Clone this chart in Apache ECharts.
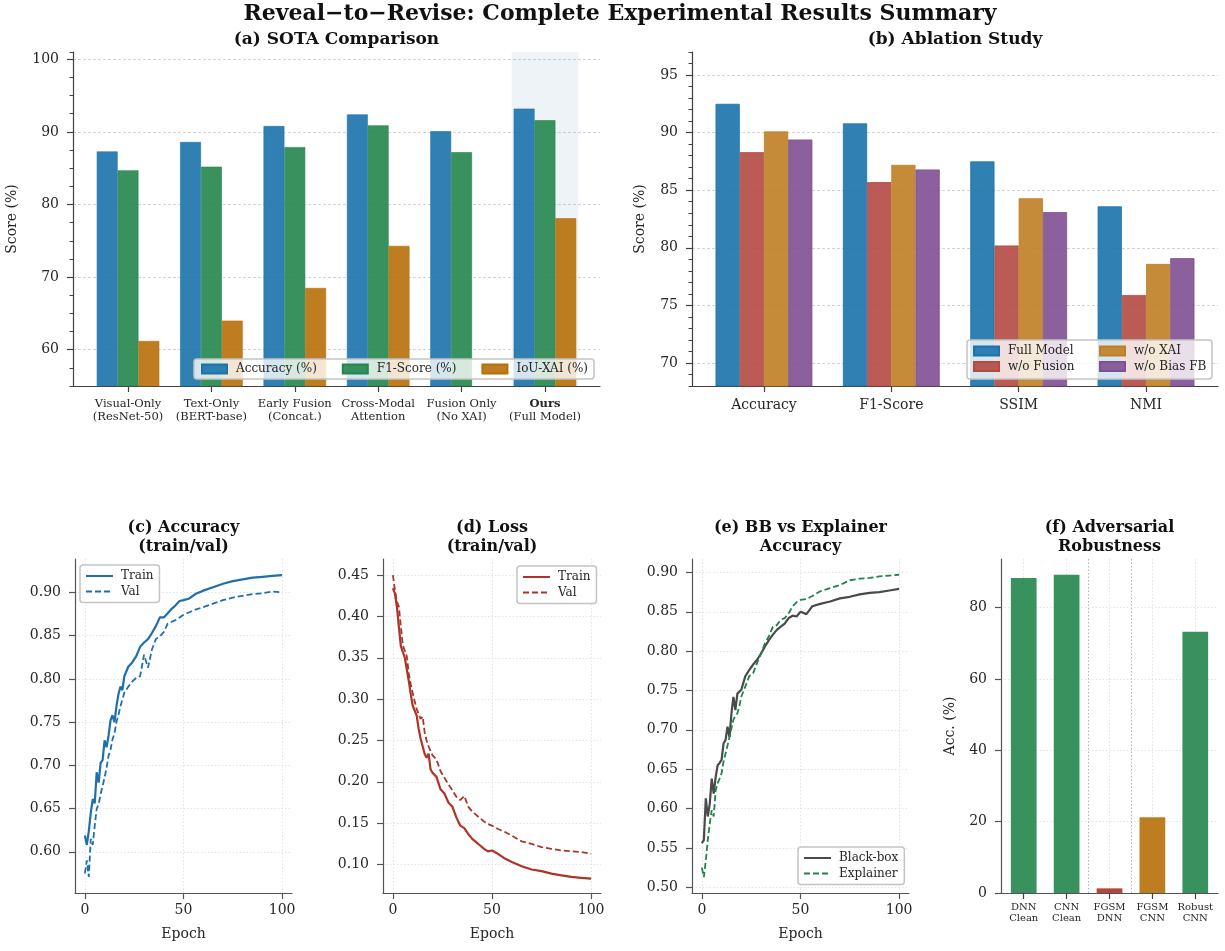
<!DOCTYPE html>
<html><head><meta charset="utf-8">
<script src="https://cdn.jsdelivr.net/npm/echarts@6/dist/echarts.min.js"></script>
<style>html,body{margin:0;padding:0;background:#fff}#c{width:1225px;height:951px}</style>
</head><body><div id="c"></div>
<script>
// ---------------- data ----------------
const sotaCats = ['Visual-Only\n(ResNet-50)', 'Text-Only\n(BERT-base)', 'Early Fusion\n(Concat.)', 'Cross-Modal\nAttention', 'Fusion Only\n(No XAI)', 'Ours\n(Full Model)'];
const sotaAcc = [87.3, 88.6, 90.8, 92.4, 90.1, 93.2];
const sotaF1  = [84.7, 85.2, 87.9, 90.9, 87.2, 91.6];
const sotaIoU = [61.2, 64.0, 68.5, 74.3, null, 78.1];

const ablCats = ['Accuracy', 'F1-Score', 'SSIM', 'NMI'];
const ablFull     = [92.5, 90.8, 87.5, 83.6];
const ablNoFusion = [88.3, 85.7, 80.2, 75.9];
const ablNoXAI    = [90.1, 87.2, 84.3, 78.6];
const ablNoBias   = [89.4, 86.8, 83.1, 79.1];

const epochs = [0,1,2,3,4,5,6,7,8,9,10,11,12,13,14,15,16,17,18,19,20,22,24,26,28,30,32,34,36,38,40,42,44,46,48,50,53,56,60,65,70,75,80,85,90,95,100];
const accTrain = [.619,.608,.624,.645,.661,.656,.692,.680,.703,.706,.729,.721,.734,.752,.758,.750,.768,.782,.791,.787,.803,
  .814,.819,.826,.837,.842,.846,.853,.861,.871,.871,.876,.881,.885,.890,.891,
  .893,.898,.902,.906,.910,.913,.915,.917,.918,.919,.920];
const accVal = [.575,.590,.571,.615,.608,.630,.650,.655,.667,.676,.686,.697,.711,.718,.730,.737,.750,.758,.768,.776,.784,
  .791,.797,.801,.803,.828,.813,.834,.846,.849,.854,.864,.866,.868,.871,.874,
  .877,.880,.883,.887,.891,.894,.896,.898,.899,.901,.900];
const lossTrain = [.434,.428,.412,.388,.364,.362,.350,.336,.322,.306,.292,.290,.280,.264,.252,.243,.234,.229,.234,.215,.211,
  .206,.191,.186,.175,.170,.157,.147,.144,.137,.131,.127,.123,.119,.116,.117,
  .113,.108,.103,.098,.094,.092,.089,.087,.085,.084,.083];
const lossVal = [.450,.432,.418,.412,.388,.365,.363,.352,.331,.318,.307,.297,.288,.282,.276,.279,.260,.250,.243,.237,.232,
  .227,.213,.205,.197,.190,.182,.178,.183,.170,.164,.160,.156,.152,.149,.147,
  .143,.140,.135,.128,.125,.121,.119,.117,.116,.115,.113];
const bbAcc = [.556,.560,.613,.590,.606,.638,.619,.640,.655,.658,.662,.683,.687,.704,.691,.721,.742,.725,.746,.748,.751,
  .768,.776,.783,.789,.797,.806,.814,.821,.827,.831,.835,.842,.845,.844,.850,
  .847,.857,.860,.863,.867,.869,.872,.874,.875,.877,.879];
const expAcc = [.525,.513,.534,.560,.581,.598,.590,.623,.632,.638,.645,.660,.670,.680,.691,.702,.713,.718,.721,.730,.742,
  .755,.768,.772,.785,.797,.810,.819,.831,.833,.840,.842,.848,.857,.862,.865,
  .866,.870,.876,.880,.884,.890,.892,.893,.895,.896,.897];

const advCats = ['DNN\nClean', 'CNN\nClean', 'FGSM\nDNN', 'FGSM\nCNN', 'Robust\nCNN'];
const advAcc = [88.3, 89.2, 1.3, 21.2, 73.2];

const yTicksA = [60, 70, 80, 90, 100];
const yTicksB = [70, 75, 80, 85, 90, 95];
const yTicksC = [0.60, 0.65, 0.70, 0.75, 0.80, 0.85, 0.90];
const yTicksD = [0.10, 0.15, 0.20, 0.25, 0.30, 0.35, 0.40, 0.45];
const yTicksE = [0.50, 0.55, 0.60, 0.65, 0.70, 0.75, 0.80, 0.85, 0.90];
const yTicksF = [0, 20, 40, 60, 80];
const xTicksEpoch = [0, 50, 100];

// ---------------- styles ----------------
const FF = 'DejaVu Serif';
const TXT = '#262626';
const AX = '#404040';
const C = {
  blue: 'rgba(27,114,172,0.9)', blueE: 'rgb(27,114,172)',
  green: 'rgba(36,134,77,0.9)', greenE: 'rgb(36,134,77)',
  orange: 'rgba(184,111,9,0.9)', orangeE: 'rgb(184,111,9)',
  red: 'rgba(179,74,66,0.9)', redE: 'rgb(179,74,66)',
  orange2: 'rgba(192,126,36,0.9)', orange2E: 'rgb(192,126,36)',
  purple: 'rgba(127,79,145,0.9)', purpleE: 'rgb(127,79,145)',
  advRed: 'rgba(170,50,40,0.9)'
};
const advColors = [C.green, C.green, C.advRed, C.orange, C.green];

const idx = a => a.map((_, i) => i);
const pairs = (xs, ys) => ys.map((v, i) => [xs[i], v == null ? '-' : v]);

function catAxis(grid, min, max, ticks, fmt, labelOpt) {
  return {
    type: 'value', gridIndex: grid, min, max,
    axisLine: { show: true, onZero: false, lineStyle: { color: AX, width: 1.2 } },
    axisTick: { show: true, length: 6, customValues: ticks, lineStyle: { color: AX, width: 1.2 } },
    axisLabel: Object.assign({ customValues: ticks, formatter: fmt, color: TXT, fontFamily: FF, fontSize: 14, margin: 12 }, labelOpt || {}),
    splitLine: { show: false }
  };
}
function valAxisTop(grid, min, max, ticks, name, gap) {
  return {
    type: 'value', gridIndex: grid, min, max, position: 'left',
    name, nameLocation: 'middle', nameGap: gap, nameTextStyle: { fontFamily: FF, fontSize: 14, color: TXT },
    axisLine: { show: true, onZero: false, lineStyle: { color: AX, width: 1.2 } },
    axisTick: { show: true, length: 6, customValues: ticks, lineStyle: { color: AX, width: 1.2 } },
    axisLabel: { customValues: ticks, color: TXT, fontFamily: FF, fontSize: 14, margin: 14 },
    splitLine: { show: true, lineStyle: { color: '#c8c8c8', type: [3, 2], width: 0.8 } }
  };
}
function minorAxis(grid, min, max, interval) {
  return {
    type: 'value', gridIndex: grid, min, max, interval, position: 'left', offset: 0,
    axisLine: { show: false, onZero: false }, axisLabel: { show: false }, splitLine: { show: false },
    axisTick: { show: true, length: 3.5, lineStyle: { color: AX, width: 1 } }
  };
}
function lineValAxis(grid, min, max, ticks, fmt, name, gap) {
  return {
    type: 'value', gridIndex: grid, min, max, position: 'left',
    name: name || '', nameLocation: 'middle', nameGap: gap || 40, nameTextStyle: { fontFamily: FF, fontSize: 14, color: TXT },
    axisLine: { show: true, onZero: false, lineStyle: { color: '#555', width: 1.2 } },
    axisTick: { show: true, length: 6, customValues: ticks, lineStyle: { color: '#555', width: 1.2 } },
    axisLabel: { customValues: ticks, formatter: fmt, color: TXT, fontFamily: FF, fontSize: 14, margin: 14 },
    splitLine: { show: true, lineStyle: { color: '#dcdcdc', type: [1.5, 2], width: 0.8 } }
  };
}
function epochAxis(grid) {
  return {
    type: 'value', gridIndex: grid, min: -5, max: 105,
    name: 'Epoch', nameLocation: 'middle', nameGap: 34, nameTextStyle: { fontFamily: FF, fontSize: 14, color: TXT },
    axisLine: { show: true, onZero: false, lineStyle: { color: '#555', width: 1.2 } },
    axisTick: { show: true, length: 6, customValues: xTicksEpoch, lineStyle: { color: '#555', width: 1.2 } },
    axisLabel: { customValues: xTicksEpoch, color: TXT, fontFamily: FF, fontSize: 14, margin: 10 },
    splitLine: { show: true, lineStyle: { color: '#dcdcdc', type: [1.5, 2], width: 0.8 } }
  };
}
const f2 = v => v.toFixed(2);

const lineLegend = (names, left, top) => ({
  data: names, left, top, orient: 'vertical', itemGap: 3.5, itemWidth: 27, itemHeight: 14,
  formatter: n => n.trim(),
  itemStyle: { color: 'rgba(0,0,0,0)', borderWidth: 0, opacity: 0 },
  textStyle: { fontFamily: FF, fontSize: 12, color: TXT, padding: [0, 0, 0, 3] },
  padding: [5, 6, 5, 5], backgroundColor: 'rgba(255,255,255,0.85)', borderColor: '#c4c4c4', borderWidth: 1.5, borderRadius: 3
});

const titleStyle = (text, size, lh) => ({
  text, font: 'bold ' + size + 'px "DejaVu Serif"', lineHeight: lh, fill: '#111',
  align: 'center', verticalAlign: 'middle', textAlign: 'center', textVerticalAlign: 'middle'
});

const option = {
  animation: false,
  backgroundColor: '#fff',
  grid: [
    { left: 73, top: 52, width: 527, height: 334 },
    { left: 692, top: 52, width: 526, height: 334 },
    { left: 75, top: 559, width: 217, height: 334 },
    { left: 383, top: 559, width: 218, height: 334 },
    { left: 692, top: 559, width: 217, height: 334 },
    { left: 1001, top: 559, width: 217, height: 334 }
  ],
  xAxis: [
    catAxis(0, -0.66, 5.66, idx(sotaCats), v => {
      const s = sotaCats[v];
      if (s.startsWith('Ours')) { const p = s.split('\n'); return '{b|' + p[0] + '}\n' + p[1]; }
      return s;
    }, { fontSize: 11.5, lineHeight: 13, rich: { b: { fontFamily: FF, fontSize: 11.5, fontWeight: 'bold', color: TXT, lineHeight: 13 } } }),
    catAxis(1, -0.565, 3.565, idx(ablCats), v => ablCats[v]),
    epochAxis(2), epochAxis(3), epochAxis(4),
    Object.assign(catAxis(5, -0.53, 4.53, idx(advCats), v => advCats[v], { fontSize: 10, lineHeight: 11, margin: 9 }),
      { splitLine: { show: true, lineStyle: { color: '#dcdcdc', type: [1.5, 2], width: 0.8 } },
        axisLine: { show: true, onZero: false, lineStyle: { color: '#555', width: 1.2 } } })
  ],
  yAxis: [
    valAxisTop(0, 55, 101, yTicksA, 'Score (%)', 54),
    minorAxis(0, 55, 101, 2.5),
    valAxisTop(1, 68, 97, yTicksB, 'Score (%)', 45),
    minorAxis(1, 68, 97, 1),
    lineValAxis(2, 0.5524, 0.9386, yTicksC, f2),
    lineValAxis(3, 0.0656, 0.4694, yTicksD, f2),
    lineValAxis(4, 0.4928, 0.917, yTicksE, f2),
    lineValAxis(5, 0, 93.6, yTicksF, v => String(v), 'Acc. (%)', 44)
  ],
  legend: [
    { data: ['Accuracy (%)', 'F1-Score (%)', 'IoU-XAI (%)'], left: 194, top: 359, orient: 'horizontal', icon: 'rect',
      itemWidth: 25, itemHeight: 9, itemGap: 25,
      textStyle: { fontFamily: FF, fontSize: 12, color: TXT, padding: [0, 0, 0, 4] },
      padding: [4, 6, 4, 7], backgroundColor: 'rgba(255,255,255,0.8)', borderColor: '#c4c4c4', borderWidth: 1.5, borderRadius: 3 },
    { data: ['Full Model', 'w/o Fusion'], left: 973, top: 345, orient: 'vertical', icon: 'rect', itemWidth: 25, itemHeight: 9, itemGap: 3.5,
      textStyle: { fontFamily: FF, fontSize: 12, color: TXT, padding: [0, 0, 0, 4] }, padding: 0 },
    { data: ['w/o XAI', 'w/o Bias FB'], left: 1099, top: 345, orient: 'vertical', icon: 'rect', itemWidth: 25, itemHeight: 9, itemGap: 3.5,
      textStyle: { fontFamily: FF, fontSize: 12, color: TXT, padding: [0, 0, 0, 4] }, padding: 0 },
    lineLegend(['Train', 'Val'], 80, 565),
    lineLegend(['Train ', 'Val '], 517, 566),
    lineLegend(['Black-box', 'Explainer'], 798, 847)
  ],
  graphic: [
    { type: 'rect', z: 3, shape: { x: 967, y: 340, width: 245, height: 39, r: 3 },
      style: { fill: 'rgba(255,255,255,0.8)', stroke: '#c4c4c4', lineWidth: 1.5 } },
    { type: 'text', x: 620, y: 14, style: titleStyle('Reveal\u2212to\u2212Revise: Complete Experimental Results Summary', 22) },
    { type: 'text', x: 336.5, y: 40, style: titleStyle('(a) SOTA Comparison', 17) },
    { type: 'text', x: 955, y: 40, style: titleStyle('(b) Ablation Study', 17) },
    { type: 'text', x: 183.5, y: 537, style: titleStyle('(c) Accuracy\n(train/val)', 16, 19) },
    { type: 'text', x: 492, y: 537, style: titleStyle('(d) Loss\n(train/val)', 16, 19) },
    { type: 'text', x: 800.5, y: 537, style: titleStyle('(e) BB vs Explainer\nAccuracy', 16, 19) },
    { type: 'text', x: 1109.5, y: 537, style: titleStyle('(f) Adversarial\nRobustness', 16, 19) }
  ],
  series: [
    // (a) highlight band for our model
    { type: 'line', xAxisIndex: 0, yAxisIndex: 0, data: [], z: 1, silent: true,
      markArea: { silent: true, itemStyle: { color: 'rgba(70,120,170,0.09)' }, data: [[{ xAxis: sotaCats.length - 1 - 0.4 }, { xAxis: sotaCats.length - 1 + 0.4 }]] } },
    { name: 'Accuracy (%)', type: 'bar', xAxisIndex: 0, yAxisIndex: 0, barWidth: '25%', barGap: '0%', z: 2,
      itemStyle: { color: C.blue, borderColor: C.blueE, borderWidth: 0.6 }, data: pairs(idx(sotaCats), sotaAcc) },
    { name: 'F1-Score (%)', type: 'bar', xAxisIndex: 0, yAxisIndex: 0, barWidth: '25%', barGap: '0%', z: 2,
      itemStyle: { color: C.green, borderColor: C.greenE, borderWidth: 0.6 }, data: pairs(idx(sotaCats), sotaF1) },
    { name: 'IoU-XAI (%)', type: 'bar', xAxisIndex: 0, yAxisIndex: 0, barWidth: '25%', barGap: '0%', z: 2,
      itemStyle: { color: C.orange, borderColor: C.orangeE, borderWidth: 0.6 }, data: pairs(idx(sotaCats), sotaIoU) },
    // (b)
    { name: 'Full Model', type: 'bar', xAxisIndex: 1, yAxisIndex: 2, barWidth: '19%', barGap: '0%',
      itemStyle: { color: C.blue, borderColor: C.blueE, borderWidth: 0.8 }, data: pairs(idx(ablCats), ablFull) },
    { name: 'w/o Fusion', type: 'bar', xAxisIndex: 1, yAxisIndex: 2, barWidth: '19%', barGap: '0%',
      itemStyle: { color: C.red, borderColor: C.redE, borderWidth: 0.8 }, data: pairs(idx(ablCats), ablNoFusion) },
    { name: 'w/o XAI', type: 'bar', xAxisIndex: 1, yAxisIndex: 2, barWidth: '19%', barGap: '0%',
      itemStyle: { color: C.orange2, borderColor: C.orange2E, borderWidth: 0.8 }, data: pairs(idx(ablCats), ablNoXAI) },
    { name: 'w/o Bias FB', type: 'bar', xAxisIndex: 1, yAxisIndex: 2, barWidth: '19%', barGap: '0%',
      itemStyle: { color: C.purple, borderColor: C.purpleE, borderWidth: 0.8 }, data: pairs(idx(ablCats), ablNoBias) },
    // (c)
    { name: 'Train', type: 'line', xAxisIndex: 2, yAxisIndex: 4, symbol: 'none', data: pairs(epochs, accTrain),
      lineStyle: { color: '#1f6fab', width: 2.2 }, itemStyle: { color: '#1f6fab' } },
    { name: 'Val', type: 'line', xAxisIndex: 2, yAxisIndex: 4, symbol: 'none', data: pairs(epochs, accVal),
      lineStyle: { color: '#1f6fab', width: 1.8, type: [6, 3] }, itemStyle: { color: '#1f6fab' } },
    // (d)
    { name: 'Train ', type: 'line', xAxisIndex: 3, yAxisIndex: 5, symbol: 'none', data: pairs(epochs, lossTrain),
      lineStyle: { color: '#ad3427', width: 2.2 }, itemStyle: { color: '#ad3427' } },
    { name: 'Val ', type: 'line', xAxisIndex: 3, yAxisIndex: 5, symbol: 'none', data: pairs(epochs, lossVal),
      lineStyle: { color: '#ad3427', width: 1.8, type: [6, 3] }, itemStyle: { color: '#ad3427' } },
    // (e)
    { name: 'Black-box', type: 'line', xAxisIndex: 4, yAxisIndex: 6, symbol: 'none', data: pairs(epochs, bbAcc),
      lineStyle: { color: '#4a4a4a', width: 2.2 }, itemStyle: { color: '#4a4a4a' } },
    { name: 'Explainer', type: 'line', xAxisIndex: 4, yAxisIndex: 6, symbol: 'none', data: pairs(epochs, expAcc),
      lineStyle: { color: '#1e8449', width: 1.8, type: [6, 3] }, itemStyle: { color: '#1e8449' } },
    // (f)
    { name: 'Adversarial', type: 'bar', xAxisIndex: 5, yAxisIndex: 7, barWidth: '60%',
      data: advAcc.map((v, i) => ({ value: [i, v], itemStyle: { color: advColors[i] } })),
      markLine: { silent: true, symbol: 'none', label: { show: false },
        lineStyle: { color: '#b5b5b5', type: [1.5, 2], width: 1 },
        data: [{ xAxis: 1.5 }, { xAxis: 2.5 }] } }
  ]
};
const chart = echarts.init(document.getElementById('c'), null, { renderer: 'canvas' });
chart.setOption(option);
</script>
</body></html>
